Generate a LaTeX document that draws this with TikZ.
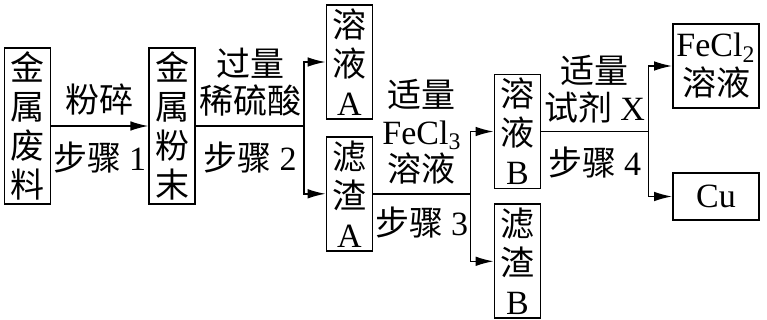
\documentclass[tikz,border=0pt]{standalone}
\usepackage{fontspec}
\setmainfont{Liberation Serif}
\newfontfamily\cjk{Noto Sans CJK SC}
\usetikzlibrary{arrows.meta, positioning}

\newcommand{\en}[1]{{\rmfamily #1}}

\begin{document}
\begin{tikzpicture}[
  x=0.5pt, y=-0.5pt,
  box/.style={draw, line width=0.9pt, align=center, inner sep=1pt, minimum width=23pt, font=\cjk\fontsize{17}{19.5}\selectfont},
  tallbox/.style={box, minimum height=78pt},
  midbox/.style={box, minimum height=57pt},
  widebox/.style={box, minimum width=43pt},
  lbl/.style={align=center, inner sep=0pt, font=\cjk\fontsize{17}{18.5}\selectfont},
  arr/.style={-{Latex[length=9pt,width=4.8pt]}, line width=0.75pt},
  ln/.style={line width=0.75pt}
]
\useasboundingbox (0,0) rectangle (767,320);

% boxes
\node[tallbox] (scrap) at (27.5,126) {金\\属\\废\\料};
\node[tallbox, right=48.5pt of scrap] (powder) {金\\属\\粉\\末};
\node[midbox] (solA) at (349.5,62) {溶\\液\\\en{A}};
\node[midbox, below=8pt of solA] (resA) {滤\\渣\\\en{A}};
\node[midbox] (solB) at (517.5,131.5) {溶\\液\\\en{B}};
\node[midbox, below=7pt of solB] (resB) {滤\\渣\\\en{B}};
\node[widebox, minimum height=42pt] (fecl) at (716,66) {\en{FeCl\textsubscript{2}}\\溶液};
\node[widebox, minimum height=23.5pt] (cu) at (716,196.5) {\en{Cu}};

% branch points
\coordinate (split2) at ([xshift=54pt]powder.east);
\coordinate (split3) at ([xshift=48.5pt]resA.east);
\coordinate (split4) at ([xshift=53.5pt]solB.east);

% step 1
\draw[arr] (scrap) -- node[lbl, above=5pt] {粉碎} node[lbl, below=7.5pt] {步骤 \en{1}} (powder);

% step 2
\draw[ln] (powder) -- node[lbl, above=4.5pt] {过量\\稀硫酸} node[lbl, below=7.5pt] {步骤 \en{2}} (split2);
\draw[arr] (split2) |- (solA);
\draw[arr] (split2) |- (resA);

% step 3
\draw[ln] (resA) -- node[lbl, above=4.5pt] {适量\\\en{FeCl\textsubscript{3}}\\溶液} node[lbl, below=6pt] {步骤 \en{3}} (split3);
\draw[arr] (split3) |- (solB);
\draw[arr] (split3) |- (resB);

% step 4
\draw[ln] (solB) -- node[lbl, above=4pt] {适量\\试剂 \en{X}} node[lbl, below=7.5pt] {步骤 \en{4}} (split4);
\draw[arr] (split4) |- (fecl);
\draw[arr] (split4) |- (cu);
\end{tikzpicture}
\end{document}
